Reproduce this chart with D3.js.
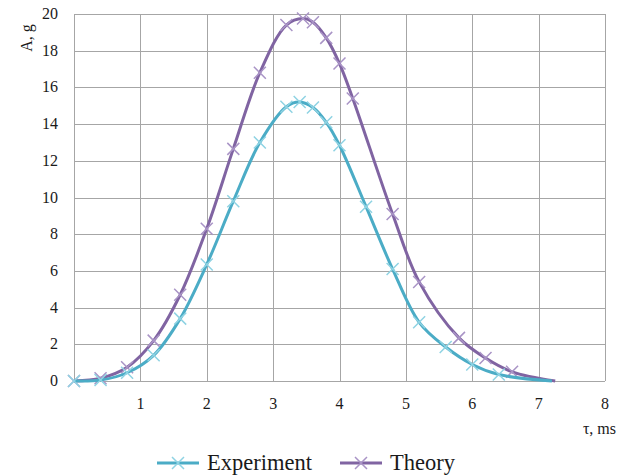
<!DOCTYPE html>
<html>
<head>
<meta charset="utf-8">
<script src="https://cdn.jsdelivr.net/npm/d3@7"></script>
<style>
body{margin:0;background:#fff;}
text{font-family:"Liberation Serif","Times New Roman",serif;fill:#1a1a1a;}
</style>
</head>
<body>
<script>
// data
const tauExp=[0,0.4,0.8,1.2,1.6,2.0,2.4,2.8,3.2,3.4,3.6,3.8,4.0,4.4,4.8,5.2,5.6,6.0,6.4,7.2]
const aExp=[0,0.05,0.45,1.4,3.4,6.35,9.8,13.0,14.95,15.2,14.9,14.1,12.85,9.5,6.1,3.2,1.85,0.9,0.35,0]
const tauTh=[0,0.4,0.8,1.2,1.6,2.0,2.4,2.8,3.2,3.45,3.6,3.8,4.0,4.2,4.8,5.2,5.8,6.2,6.6,7.25]
const aTh=[0,0.15,0.75,2.2,4.7,8.3,12.65,16.8,19.4,19.75,19.55,18.7,17.3,15.4,9.1,5.4,2.35,1.25,0.5,0]
const xTicks=[1,2,3,4,5,6,7,8]
const yTicks=[0,2,4,6,8,10,12,14,16,18,20]
const seriesNames=["Experiment","Theory"]

//constants
const W=624,H=476
const pLeft=74,pRight=605,pTop=14,pBottom=381
const colors=["#4bacc6","#8064a2"]
const markColors=["#8fd3e3","#a994c6"]

const svg=d3.select("body").append("svg").attr("width",W).attr("height",H)

//scales
const x=d3.scaleLinear().domain([0,8]).range([pLeft,pRight])
const y=d3.scaleLinear().domain([0,20]).range([pBottom,pTop])

//grid
const grid=svg.append("g").attr("stroke","#a6a6a6").attr("stroke-width",1)
grid.selectAll(".vl").data(d3.range(0,9)).enter().append("line")
    .attr("x1",d=>Math.round(x(d))+0.5).attr("x2",d=>Math.round(x(d))+0.5)
    .attr("y1",pTop).attr("y2",pBottom)
grid.selectAll(".hl").data(yTicks).enter().append("line")
    .attr("y1",d=>Math.round(y(d))+0.5).attr("y2",d=>Math.round(y(d))+0.5)
    .attr("x1",pLeft).attr("x2",pRight)

//tick labels
svg.selectAll(".yt").data(yTicks).enter().append("text")
    .attr("x",58).attr("y",d=>y(d)+5)
    .attr("text-anchor","end").style("font-size","16px").text(d=>d)
svg.selectAll(".xt").data(xTicks).enter().append("text")
    .attr("x",d=>x(d)).attr("y",409)
    .attr("text-anchor","middle").style("font-size","16px").text(d=>d)

svg.append("text").attr("transform","translate(32,38) rotate(-90)")
    .attr("text-anchor","middle").style("font-size","16px").text("A, g")
svg.append("text").attr("x",616).attr("y",434)
    .attr("text-anchor","end").style("font-size","16px").text("τ, ms")

//lines
const line=d3.line().x(d=>x(d[0])).y(d=>y(d[1])).curve(d3.curveCatmullRom.alpha(0.5))
const cross=(g,cx,cy,c)=>{
  g.append("path").attr("d",`M${cx-6},${cy-6}L${cx+6},${cy+6}M${cx-6},${cy+6}L${cx+6},${cy-6}`)
   .attr("stroke",c).attr("stroke-width",1.5).attr("fill","none")
}
const series=[d3.zip(tauExp,aExp),d3.zip(tauTh,aTh)]
// theory drawn first so experiment sits on top like in the original
;[1,0].forEach(i=>{
  const g=svg.append("g")
  g.append("path").datum(series[i]).attr("d",line)
   .attr("fill","none").attr("stroke",colors[i]).attr("stroke-width",3)
  series[i].slice(0,-1).forEach(p=>cross(g,x(p[0]),y(p[1]),markColors[i]))
})

//legend
const legX=[157,340]
seriesNames.forEach((n,i)=>{
  const g=svg.append("g")
  g.append("line").attr("x1",legX[i]).attr("x2",legX[i]+42).attr("y1",463).attr("y2",463)
   .attr("stroke",colors[i]).attr("stroke-width",3)
  cross(g,legX[i]+21,463,markColors[i])
  g.append("text").attr("x",legX[i]+50).attr("y",470).style("font-size","22.5px").text(n)
})
</script>
</body>
</html>
